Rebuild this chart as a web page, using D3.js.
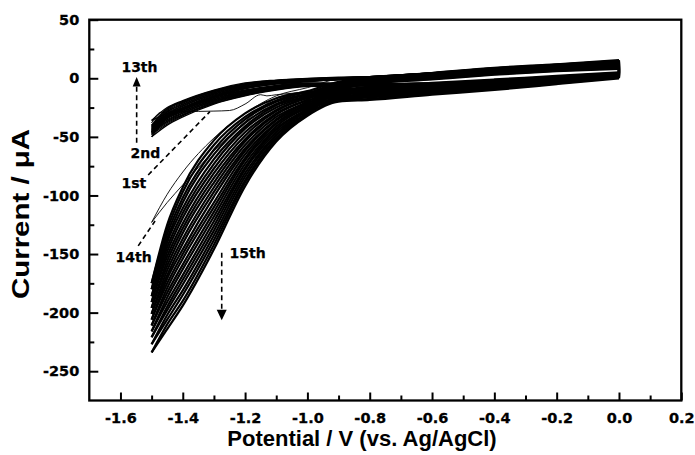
<!DOCTYPE html>
<html>
<head>
<meta charset="utf-8">
<script src="https://cdn.jsdelivr.net/npm/d3@7"></script>
<style>
  html, body { margin: 0; padding: 0; background: #fff; }
  svg { display: block; }
</style>
</head>
<body>
<svg id="chart" width="695" height="455"></svg>
<script>
// Potentials (V vs. Ag/AgCl) at which each sweep is sampled
const potentials = [0, -0.2, -0.4, -0.6, -0.8, -0.9, -1.0, -1.1, -1.2, -1.3, -1.4, -1.45, -1.5];

// 1st cycle: sampled on its own potential grid (small kink near -1.13 V)
const firstFwdPotentials = [0, -0.2, -0.4, -0.6, -0.8, -0.9, -1.0, -1.1, -1.13, -1.15, -1.2, -1.25, -1.3, -1.4, -1.47, -1.5];
const firstFwdCurrents   = [2, -2, -5, -8, -10, -11, -12, -14, -15, -14, -22, -27.5, -28, -28.5, -29, -38];
const firstRevCurrents   = [15, 12, 9, 5, 1.5, 0.5, -0.5, -2, -5, -11, -20, -26, -38];

// 2nd – 13th cycles (µA)
const earlyForward = [
  [3, 0, -3, -5, -6, -6.5, -7, -10, -15, -22, -33, -40, -50],
  [3.5, 0.5, -2.5, -5, -6, -6.5, -6.7, -9.6, -14.5, -21.5, -32, -39, -48],
  [2.5, -0.5, -3, -5.5, -6.5, -6.5, -6.5, -9.3, -14, -21, -31.5, -38, -47],
  [3, 0, -3, -5, -6, -6, -6.2, -8.9, -13.6, -20.4, -31, -37, -46],
  [4, 1, -2, -4.5, -5.5, -5.5, -5.9, -8.5, -13.2, -19.8, -30, -36.4, -46],
  [3, 0, -3, -5, -6, -5.5, -5.6, -8.2, -12.7, -19.3, -29.4, -35.5, -45],
  [3.5, 0.5, -2.5, -4.5, -5.5, -5.5, -5.4, -7.8, -12.3, -18.7, -28.6, -34.5, -44],
  [2.5, -0.5, -3.5, -5.5, -6, -5.5, -5.1, -7.5, -11.8, -18.2, -28, -33.6, -43],
  [3, 0, -3, -5, -5.5, -5, -4.8, -7.1, -11.4, -17.6, -27.2, -32.7, -42],
  [4, 1, -2, -4, -5, -4.8, -4.5, -6.7, -10.9, -17.1, -26.5, -31.8, -41],
  [3, 0, -3, -4.5, -5, -4.5, -4.3, -6.4, -10.5, -16.5, -25.7, -30.9, -40],
  [3.5, 0.5, -2.5, -4, -4.5, -4, -4, -6, -10, -16, -25, -30, -36]
];
const earlyReverse = [
  [14, 11, 8, 4, 1, -1, -3, -5, -9, -16, -27, -34, -50],
  [13.5, 10.5, 7.5, 3.5, 0.5, -1, -2.7, -4.7, -8.5, -15.5, -26, -33, -48],
  [14.5, 11.5, 8, 4, 1, -0.5, -2.5, -4.4, -8, -15, -25.5, -32, -47],
  [13, 10, 7, 3, 0, -1.5, -2.2, -4, -7.6, -14.4, -25, -31.5, -46],
  [14, 11, 8, 4.5, 1.5, 0, -1.9, -3.7, -7.2, -13.8, -24, -30.7, -46],
  [13.5, 10.5, 7.5, 4, 1, -0.5, -1.6, -3.4, -6.7, -13.3, -23.4, -30, -45],
  [14.5, 11.5, 8.5, 4.5, 1.5, 0, -1.4, -3.1, -6.3, -12.7, -22.6, -29, -44],
  [13, 10, 7, 3.5, 0.5, -0.5, -1.1, -2.8, -5.8, -12.2, -22, -28.3, -43],
  [14, 11, 8, 4, 1, 0, -0.8, -2.5, -5.4, -11.6, -21.2, -27.5, -42],
  [15, 12, 8.5, 4.5, 1.5, 0.5, -0.5, -2.1, -4.9, -11.1, -20.5, -26.6, -41],
  [14, 11, 8, 4, 1, 0.5, -0.3, -1.8, -4.5, -10.5, -19.7, -25.8, -40],
  [14.5, 11.5, 8.5, 4.5, 1.5, 1, 0, -1.5, -4, -10, -19, -25, -36]
];

// 14th cycle
const cycle14Forward = [3, 0, -3, -5, -7, -8, -11, -17, -37, -62, -91, -106, -123];
const cycle14Reverse = [14, 11, 8, 4, 1, -0.5, -8, -15, -30, -51, -80, -99, -123];

// 15th – 26th cycles (µA)
const lateForward = [
  [5, 2, -1, -4, -7, -10, -12, -19, -33, -57, -97, -129, -175],
  [4.5, 1.4, -1.8, -4.9, -8.0, -10.9, -14, -22, -38, -65, -106, -137, -180],
  [4.1, 0.7, -2.6, -5.8, -9.1, -11.8, -16, -25, -43, -73, -115, -144, -186],
  [3.6, 0.1, -3.5, -6.7, -10.1, -12.7, -17, -28, -49, -81, -124, -152, -191],
  [3.2, -0.5, -4.3, -7.6, -11.2, -13.6, -19, -31, -54, -89, -132, -160, -196],
  [2.7, -1.2, -5.1, -8.5, -12.2, -14.5, -21, -35, -60, -97, -141, -168, -201],
  [2.3, -1.8, -5.9, -9.5, -13.3, -15.5, -23, -38, -65, -106, -150, -175, -206],
  [1.8, -2.5, -6.7, -10.4, -14.3, -16.4, -25, -41, -70, -114, -159, -183, -211],
  [1.4, -3.1, -7.5, -11.3, -15.4, -17.3, -27, -44, -76, -122, -168, -191, -216],
  [0.9, -3.7, -8.4, -12.2, -16.4, -18.2, -28, -48, -81, -130, -176, -198, -221],
  [0.5, -4.4, -9.2, -13.1, -17.5, -19.1, -30, -51, -87, -138, -185, -206, -227],
  [0, -5, -10, -14, -18.5, -20, -32, -54, -92, -146, -194, -214, -234]
];
const lateReverse = [
  [15.5, 12, 9, 4.5, 0, -3, -11, -17, -30, -53, -93, -125, -175],
  [14.8, 11.5, 8.5, 4.0, -0.5, -3.6, -13, -20, -35, -61, -102, -133, -180],
  [14.1, 10.9, 7.9, 3.5, -0.9, -4.3, -15, -23, -41, -69, -111, -140, -186],
  [13.5, 10.4, 7.4, 3.0, -1.4, -4.9, -16, -27, -46, -77, -119, -148, -191],
  [12.8, 9.8, 6.8, 2.5, -1.8, -5.5, -18, -30, -52, -85, -128, -156, -196],
  [12.1, 9.3, 6.3, 2.0, -2.3, -6.2, -20, -33, -57, -93, -137, -164, -201],
  [11.4, 8.7, 5.7, 1.5, -2.7, -6.8, -22, -36, -62, -101, -146, -171, -206],
  [10.7, 8.2, 5.2, 1.0, -3.2, -7.5, -24, -39, -68, -110, -154, -179, -211],
  [10.0, 7.6, 4.6, 0.5, -3.6, -8.1, -26, -43, -73, -118, -163, -187, -216],
  [9.4, 7.1, 4.1, 0.0, -4.1, -8.7, -27, -46, -78, -126, -172, -195, -221],
  [8.7, 6.5, 3.5, -0.5, -4.5, -9.4, -29, -49, -84, -134, -181, -202, -227],
  [8, 6, 3, -1, -5, -10, -31, -52, -89, -142, -190, -210, -234]
];

// Axis ticks
const xMajorTicks = [-1.6, -1.4, -1.2, -1.0, -0.8, -0.6, -0.4, -0.2, 0.0, 0.2];
const xMinorTicks = [-1.5, -1.3, -1.1, -0.9, -0.7, -0.5, -0.3, -0.1, 0.1];
const yMajorTicks = [50, 0, -50, -100, -150, -200, -250];
const yMinorTicks = [25, -25, -75, -125, -175, -225];

// Cycle-number annotations [label, potential, current]
const labels = [
  ["13th", -1.597, 5.5],
  ["2nd", -1.568, -68],
  ["1st", -1.597, -93.5],
  ["14th", -1.616, -157],
  ["15th", -1.25, -153.5]
];

const svg = d3.select("#chart");
const x = d3.scaleLinear().domain([-1.7, 0.2]).range([89.3, 681.3]);
const y = d3.scaleLinear().domain([-275, 50]).range([400.5, 19.7]);

const tickFont = "'DejaVu Sans', Verdana, sans-serif";
const titleFont = "'Liberation Sans', Arial, Helvetica, sans-serif";

const line = d3.line()
  .x(d => x(d[0]))
  .y(d => y(d[1]))
  .curve(d3.curveMonotoneX);

const plot = svg.append("g");

function sweep(pots, currents) {
  return pots.map((v, i) => [v, currents[i]]).sort((a, b) => a[0] - b[0]);
}

function drawCycle(fPots, fwd, rPots, rev, width) {
  const g = plot.append("g")
    .attr("fill", "none")
    .attr("stroke", "#000")
    .attr("stroke-width", width)
    .attr("stroke-linejoin", "round");
  g.append("path").attr("d", line(sweep(fPots, fwd)));
  g.append("path").attr("d", line(sweep(rPots, rev)));
  // scan reversal at the anodic limit
  g.append("path").attr("d", d3.line().x(d => x(d[0])).y(d => y(d[1]))([
    [rPots[0], rev[0]], [fPots[0], fwd[0]]
  ]));
}

lateForward.forEach((f, i) => drawCycle(potentials, f, potentials, lateReverse[i], 2.2));
earlyForward.forEach((f, i) => drawCycle(potentials, f, potentials, earlyReverse[i], 1.3));
drawCycle(firstFwdPotentials, firstFwdCurrents, potentials, firstRevCurrents, 0.9);
drawCycle(potentials, cycle14Forward, potentials, cycle14Reverse, 0.9);

// Axes (ticks point inward)
const xAxis = d3.axisBottom(x).tickValues(xMajorTicks).tickSize(-8).tickPadding(12)
  .tickFormat(d => d.toFixed(1));
const xMinor = d3.axisBottom(x).tickValues(xMinorTicks).tickSize(-5).tickFormat("");
const yAxis = d3.axisLeft(y).tickValues(yMajorTicks).tickSize(-9).tickPadding(10)
  .tickFormat(d => String(d));
const yMinor = d3.axisLeft(y).tickValues(yMinorTicks).tickSize(-5).tickFormat("");

function styleAxis(g) {
  g.select(".domain").remove();
  g.selectAll(".tick line").attr("stroke", "#000").attr("stroke-width", 2);
  g.selectAll(".tick text")
    .attr("fill", "#000")
    .attr("stroke", "#000")
    .attr("stroke-width", 0.3)
    .style("font-family", tickFont)
    .style("font-weight", "bold")
    .style("font-size", "14.5px");
}

svg.append("g").attr("transform", `translate(0,${y(-275)})`).call(xAxis).call(styleAxis);
svg.append("g").attr("transform", `translate(0,${y(-275)})`).call(xMinor).call(styleAxis);
svg.append("g").attr("transform", `translate(${x(-1.7)},0)`).call(yAxis).call(styleAxis);
svg.append("g").attr("transform", `translate(${x(-1.7)},0)`).call(yMinor).call(styleAxis);

// Plot frame
svg.append("rect")
  .attr("x", x(-1.7)).attr("y", y(50))
  .attr("width", x(0.2) - x(-1.7)).attr("height", y(-275) - y(50))
  .attr("fill", "none").attr("stroke", "#000").attr("stroke-width", 2.3);

// Axis titles
svg.append("text")
  .attr("x", 362).attr("y", 446)
  .attr("text-anchor", "middle")
  .style("font-family", titleFont).style("font-weight", "bold").style("font-size", "22px")
  .text("Potential / V (vs. Ag/AgCl)");

svg.append("text")
  .attr("transform", "translate(29,214) rotate(-90) scale(1.28,1)")
  .attr("text-anchor", "middle")
  .style("font-family", titleFont).style("font-weight", "bold").style("font-size", "23px")
  .text("Current / μA");

// Annotations
const ann = svg.append("g");
labels.forEach(([t, v, i]) => {
  ann.append("text")
    .attr("x", x(v)).attr("y", y(i))
    .attr("stroke", "#000").attr("stroke-width", 0.25)
    .style("font-family", tickFont).style("font-weight", "bold").style("font-size", "14px")
    .text(t);
});

const dash = { stroke: "#000", "stroke-width": 1.6, "stroke-dasharray": "5,3.5", fill: "none" };
function dashed(p) {
  const path = ann.append("path").attr("d", d3.line().x(d => x(d[0])).y(d => y(d[1]))(p));
  Object.entries(dash).forEach(([k, val]) => path.attr(k, val));
}
// 2nd -> 13th arrow
dashed([[-1.548, -55], [-1.548, -6]]);
// 1st pointer
dashed([[-1.511, -82.5], [-1.313, -28.5]]);
// 14th pointer
dashed([[-1.543, -143], [-1.489, -121.8]]);
// 15th arrow
dashed([[-1.275, -149], [-1.275, -197]]);

function head(v, iTip, iBase, half) {
  ann.append("path")
    .attr("d", `M${x(v)},${y(iTip)}L${x(v) - half},${y(iBase)}L${x(v) + half},${y(iBase)}Z`)
    .attr("fill", "#000");
}
head(-1.548, 1.2, -7, 4);
head(-1.275, -206.5, -197.5, 5);
</script>
</body>
</html>
